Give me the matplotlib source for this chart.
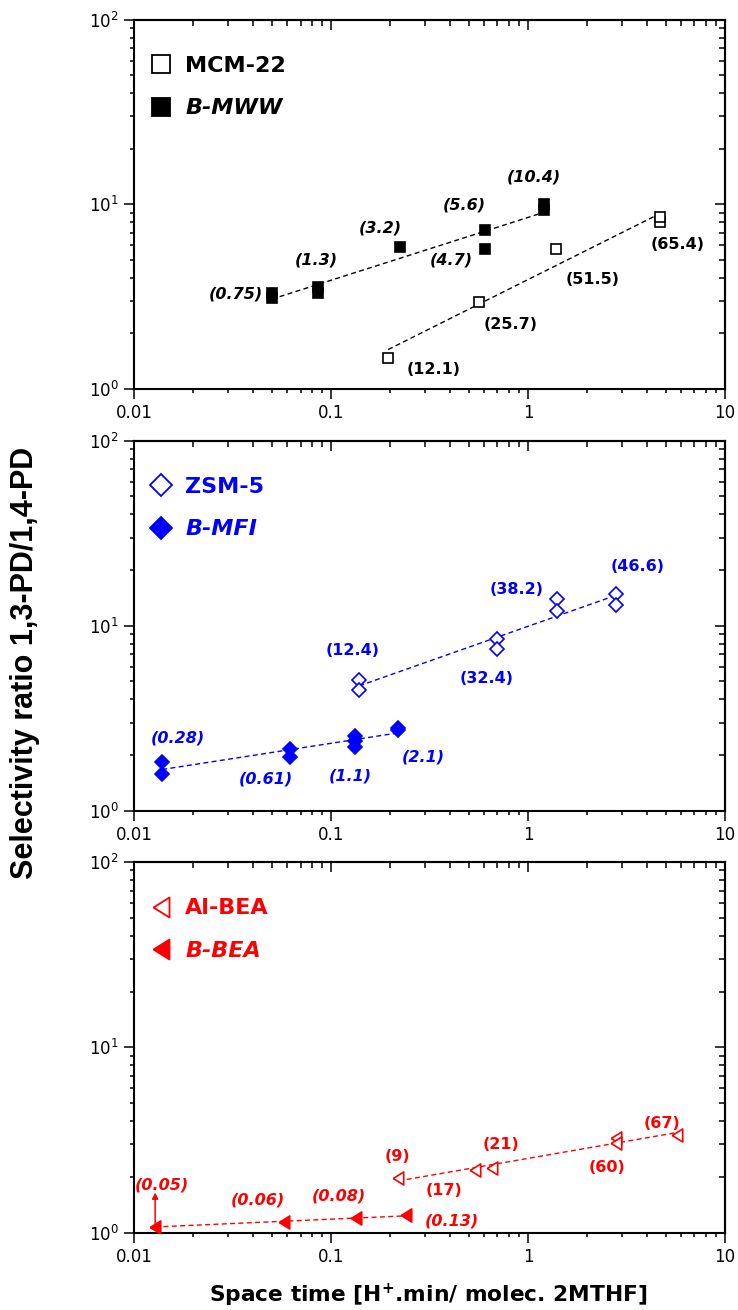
import numpy as np
import matplotlib
matplotlib.use("Agg")
import matplotlib.pyplot as plt
from matplotlib.lines import Line2D
from matplotlib.ticker import FuncFormatter, NullFormatter

plt.rcParams["font.family"] = ["DejaVu Sans"]
plt.rcParams["mathtext.fontset"] = "dejavusans"

BLUE = "#0000ff"
RED = "#ff0000"

# ---- data (space time, selectivity ratio) ----
mcm_x = [0.195, 0.565, 1.39, 4.65, 4.65]
mcm_y = [1.48, 2.97, 5.76, 8.0, 8.6]
mcm_labels = {0: "(12.1)", 1: "(25.7)", 2: "(51.5)", 3: "(65.4)"}

bmww_x = [0.05, 0.05, 0.0855, 0.0855, 0.223, 0.607, 0.607, 1.21, 1.21]
bmww_y = [3.12, 3.3, 3.3, 3.55, 5.86, 7.25, 5.76, 9.3, 10.0]
bmww_labels = {0: "(0.75)", 3: "(1.3)", 4: "(3.2)", 5: "(5.6)", 6: "(4.7)", 8: "(10.4)"}

zsm_x = [0.139, 0.139, 0.697, 0.697, 1.40, 1.40, 2.81, 2.81]
zsm_y = [5.09, 4.49, 8.44, 7.45, 13.9, 12.05, 14.8, 12.9]
zsm_labels = {0: "(12.4)", 3: "(32.4)", 4: "(38.2)", 6: "(46.6)"}

bmfi_x = [0.0139, 0.0139, 0.062, 0.062, 0.1326, 0.1326, 0.1326, 0.22, 0.22]
bmfi_y = [1.84, 1.59, 2.17, 1.96, 2.53, 2.38, 2.22, 2.79, 2.74]
bmfi_labels = {0: "(0.28)", 3: "(0.61)", 6: "(1.1)", 8: "(2.1)"}

albea_x = [0.22, 0.535, 0.653, 2.81, 2.81, 5.71]
albea_y = [1.97, 2.18, 2.23, 3.26, 3.04, 3.37]
albea_labels = {0: "(9)", 1: "(17)", 2: "(21)", 4: "(60)", 5: "(67)"}

bbea_x = [0.0128, 0.0578, 0.134, 0.239]
bbea_y = [1.08, 1.14, 1.20, 1.24]
bbea_labels = {0: "(0.05)", 1: "(0.06)", 2: "(0.08)", 3: "(0.13)"}

# ---- label offsets in points (layout only) ----
mcm_off = {0: (33, -8.4), 1: (23, -16.7), 2: (26.5, -22), 3: (13, -16.3)}
bmww_off = {0: (-26, 3), 3: (-1, 19.7), 4: (-14, 13.7), 5: (-15, 18.2), 6: (-24.5, -8.1), 8: (-7.5, 20)}
zsm_off = {0: (-4.4, 21.6), 3: (-7.5, -20.9), 4: (-28.6, 7), 6: (15.3, 19.7)}
bmfi_off = {0: (11.2, 16.8), 3: (-17.4, -16.3), 6: (-3.4, -21.2), 8: (18, -19.4)}
albea_off = {0: (-0.7, 15.4), 1: (-21.8, -15.1), 2: (6.8, 16.7), 4: (-6.5, -17.6), 5: (-10.9, 8.4)}
bbea_off = {0: (5.1, 29.9), 1: (-18.7, 16), 2: (-12.6, 15.8), 3: (33.3, -4)}

TRI = [(-0.4, 0), (0.4, 0.5), (0.4, -0.5), (-0.4, 0)]


def style_axes(ax):
    ax.set_xscale("log")
    ax.set_yscale("log")
    ax.set_xlim(0.01, 10)
    ax.set_ylim(1, 100)
    for s in ax.spines.values():
        s.set_linewidth(1.5)
    ax.tick_params(which="both", direction="out", width=1.1, top=False, right=False, labelsize=12)
    ax.tick_params(which="major", length=7, pad=4)
    ax.tick_params(which="minor", length=3)
    ax.xaxis.set_major_formatter(FuncFormatter(lambda v, _: f"{v:g}"))
    ax.xaxis.set_minor_formatter(NullFormatter())
    ax.yaxis.set_minor_formatter(NullFormatter())
    top = ax.secondary_xaxis("top")
    top.tick_params(which="both", direction="in", width=1.1, labeltop=False, labelbottom=False)
    top.tick_params(which="major", length=7)
    top.tick_params(which="minor", length=4)
    right = ax.secondary_yaxis("right")
    right.tick_params(which="both", direction="in", width=1.1, labelright=False, labelleft=False)
    right.tick_params(which="major", length=7)
    right.tick_params(which="minor", length=4)
    for sec in (top, right):
        for s in sec.spines.values():
            s.set_linewidth(1.5)


def fit_line(ax, x, y, color):
    lx, ly = np.log10(x), np.log10(y)
    k, b = np.polyfit(lx, ly, 1)
    xs = np.array([lx.min(), lx.max()])
    ax.plot(10 ** xs, 10 ** (k * xs + b), ls=(0, (3.6, 2.4)), lw=1, color=color, zorder=1)


def series(ax, x, y, marker, ms, color, filled, labels, offsets, italic):
    fit_line(ax, x, y, color)
    ax.plot(x, y, ls="none", marker=marker, ms=ms, mec=color,
            mfc=color if filled else "white", mew=1.2, zorder=3)
    for i, txt in labels.items():
        ax.annotate(txt, (x[i], y[i]), xytext=offsets[i], textcoords="offset points",
                    ha="center", va="center", color=color, fontsize=11.5,
                    weight="bold", style="italic" if italic else "normal")


def legend(ax, marker, ms, color, names):
    handles = [
        Line2D([], [], ls="none", marker=marker, ms=ms, mec=color, mfc="white", mew=1.3),
        Line2D([], [], ls="none", marker=marker, ms=ms, mec=color, mfc=color, mew=1.3),
    ]
    leg = ax.legend(handles, names, loc="upper left", bbox_to_anchor=(0.027, 0.902),
                    frameon=False, handlelength=1.0, handletextpad=0.58, borderpad=0,
                    borderaxespad=0, labelspacing=1.0, prop=dict(weight="bold", size=16))
    for t in leg.get_texts():
        t.set_color(color)
    leg.get_texts()[1].set_style("italic")


fig = plt.figure(figsize=(7.38, 13.10), dpi=100)
panels = [(0.7031, 0.2817), (0.3811, 0.2824), (0.0590, 0.2830)]
ax1, ax2, ax3 = [fig.add_axes([0.1816, b, 0.8008, h]) for b, h in panels]
for ax in (ax1, ax2, ax3):
    style_axes(ax)

# MWW panel
series(ax1, mcm_x, mcm_y, "s", 6.5, "black", False, mcm_labels, mcm_off, False)
series(ax1, bmww_x, bmww_y, "s", 7.2, "black", True, bmww_labels, bmww_off, True)
legend(ax1, "s", 12.5, "black", ["MCM-22", "B-MWW"])

# MFI panel
series(ax2, zsm_x, zsm_y, "D", 7, BLUE, False, zsm_labels, zsm_off, False)
series(ax2, bmfi_x, bmfi_y, "D", 7, BLUE, True, bmfi_labels, bmfi_off, True)
legend(ax2, "D", 11, BLUE, ["ZSM-5", "B-MFI"])

# BEA panel
series(ax3, albea_x, albea_y, TRI, 9.4, RED, False, albea_labels, albea_off, False)
series(ax3, bbea_x, bbea_y, TRI, 9.4, RED, True, bbea_labels, bbea_off, True)
legend(ax3, TRI, 14.4, RED, ["Al-BEA", "B-BEA"])
# lower-bound arrow on the first B-BEA point
ax3.annotate("", xy=(bbea_x[0], bbea_y[0]), xytext=(0, 24.5), textcoords="offset points",
             arrowprops=dict(arrowstyle="<|-", color=RED, lw=1.1, shrinkA=0, shrinkB=0,
                             mutation_scale=9))

fig.text(0.034, 0.494, "Selectivity ratio 1,3-PD/1,4-PD", rotation=90, ha="center",
         va="center", family="Liberation Sans", weight="bold", size=22)
fig.text(0.58, 0.0115, r"Space time [H$^{\mathbf{+}}$.min/ molec. 2MTHF]", ha="center",
         va="center", weight="bold", size=15.7)

fig.savefig("out.png", dpi=100)
